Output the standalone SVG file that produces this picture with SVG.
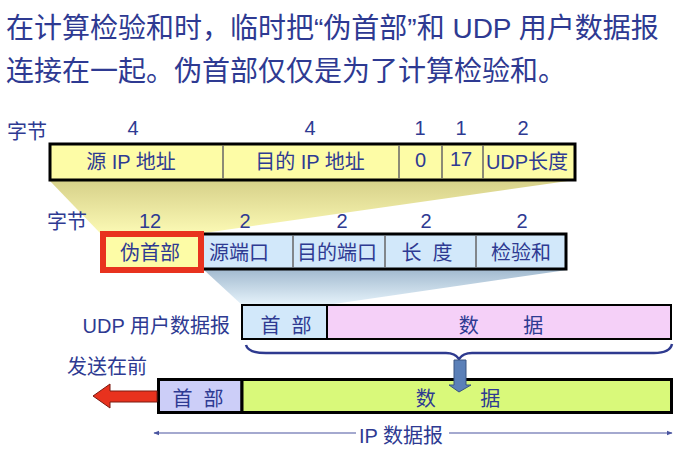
<svg xmlns="http://www.w3.org/2000/svg" width="678" height="454" viewBox="0 0 678 454">
<defs>
<style>
text{font-family:"Liberation Sans","Noto Sans CJK SC",sans-serif;fill:#2e3a92;}
.t{font-size:28px;}
.l{font-size:20px;}
.c{text-anchor:middle;}
.bx{stroke:#000;stroke-width:3;}
.dv{stroke:#666;stroke-width:1.5;}
</style>
<linearGradient id="gy" x1="0" y1="0" x2="0" y2="1">
<stop offset="0" stop-color="#d6d089"/>
<stop offset="1" stop-color="#fbf9b4"/>
</linearGradient>
<linearGradient id="gb" x1="0" y1="0" x2="0" y2="1">
<stop offset="0" stop-color="#a3bbd0"/>
<stop offset="1" stop-color="#e6f3fb"/>
</linearGradient>
<marker id="ah" viewBox="0 0 10 10" refX="9" refY="5" markerWidth="6" markerHeight="6" orient="auto-start-reverse" markerUnits="userSpaceOnUse">
<path d="M0,1 L10,5 L0,9 Z" fill="#4a55a0"/>
</marker>
</defs>
<rect width="678" height="454" fill="#fff"/>
<g id="title">
<text class="t" x="6" y="38">在计算检验和时，临时把“伪首部”和 UDP 用户数据报</text>
<text class="t" x="6" y="81">连接在一起。伪首部仅仅是为了计算检验和。</text>
</g>
<g id="shading">
<polygon points="49,180 575,180 204,233 100,233" fill="url(#gy)"/>
<polygon points="204,270 567,270 327,305 242,305" fill="url(#gb)"/>
</g>
<g id="pseudo-header-fields">
<text class="l" x="7" y="138.5">字节</text>
<text class="l c" x="133" y="135">4</text>
<text class="l c" x="310" y="135">4</text>
<text class="l c" x="420" y="135">1</text>
<text class="l c" x="461" y="135">1</text>
<text class="l c" x="523" y="135">2</text>
<rect class="bx" x="50" y="144" width="525" height="36" fill="#fdfca6"/>
<line class="dv" x1="223" y1="145.5" x2="223" y2="178.5"/>
<line class="dv" x1="399" y1="145.5" x2="399" y2="178.5"/>
<line class="dv" x1="442" y1="145.5" x2="442" y2="178.5"/>
<line class="dv" x1="483" y1="145.5" x2="483" y2="178.5"/>
<text class="l c" x="131" y="169">源 IP 地址</text>
<text class="l c" x="310" y="169">目的 IP 地址</text>
<text class="l c" x="420.5" y="167">0</text>
<text class="l c" x="461" y="166">17</text>
<text class="l c" x="527" y="169">UDP长度</text>
</g>
<g id="udp-pseudo-row">
<text class="l" x="47" y="229">字节</text>
<text class="l c" x="150" y="227.5">12</text>
<text class="l c" x="245" y="227.5">2</text>
<text class="l c" x="342" y="227.5">2</text>
<text class="l c" x="426" y="227.5">2</text>
<text class="l c" x="522" y="227.5">2</text>
<rect class="bx" x="200" y="234" width="366" height="35" fill="#d2e8fa"/>
<line class="dv" x1="293" y1="235.5" x2="293" y2="267.5"/>
<line class="dv" x1="385" y1="235.5" x2="385" y2="267.5"/>
<line class="dv" x1="476" y1="235.5" x2="476" y2="267.5"/>
<text class="l c" x="239" y="259.5">源端口</text>
<text class="l c" x="337" y="259.5">目的端口</text>
<text class="l c" x="427" y="259.5" xml:space="preserve">长  度</text>
<text class="l c" x="521" y="259.5">检验和</text>
</g>
<g id="pseudo-header">
<rect x="103" y="234" width="98" height="36" fill="#fdfca6" stroke="#e8321e" stroke-width="6"/>
<text class="l c" x="150" y="259.5">伪首部</text>
</g>
<g id="udp-datagram">
<text class="l" x="230" y="332.5" text-anchor="end">UDP 用户数据报</text>
<rect x="242" y="305" width="85" height="34" fill="#d2e8fa" stroke="#000" stroke-width="2"/>
<rect x="327" y="305" width="344" height="34" fill="#f5d0f8" stroke="#000" stroke-width="2"/>
<text class="l c" x="286" y="332.5" xml:space="preserve">首  部</text>
<text class="l c" x="501" y="332.5" xml:space="preserve">数        据</text>
</g>
<g id="ip-datagram">
<text class="l" x="67" y="373.5">发送在前</text>
<rect x="158.5" y="379.5" width="83.5" height="33" fill="#cccef8" stroke="#000" stroke-width="3"/>
<rect x="242" y="379.5" width="429.5" height="33" fill="#d9f97a" stroke="#000" stroke-width="3"/>
<text class="l c" x="198" y="405.5" xml:space="preserve">首  部</text>
<text class="l c" x="458" y="405.5" xml:space="preserve">数        据</text>
</g>
<g id="connectors">
<path d="M246,345 Q248,353 266,353 L446,353 Q455,353 459,359 Q463,353 472,353 L654,353 Q670,353 672,344" fill="none" stroke="#2e3a8f" stroke-width="2.5"/>
<polygon points="454,360 466,360 466,385 471,385 459,392 449,385 454,385" fill="#5b80b8" stroke="#3a5580" stroke-width="1"/>
<polygon points="93,396 110,384 110,391 157,391 157,402 110,402 110,408" fill="#e8321e" stroke="#7a1a10" stroke-width="1"/>
<line x1="356" y1="433" x2="154" y2="433" stroke="#4a55a0" stroke-width="1.2" marker-end="url(#ah)"/>
<line x1="449" y1="433" x2="672" y2="433" stroke="#4a55a0" stroke-width="1.2" marker-end="url(#ah)"/>
<text class="l" x="359" y="442.5">IP 数据报</text>
</g>
</svg>
